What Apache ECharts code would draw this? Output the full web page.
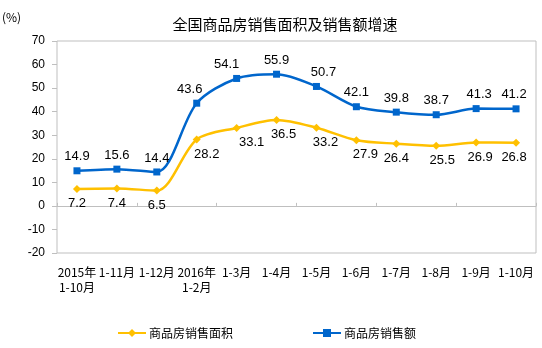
<!DOCTYPE html>
<html><head><meta charset="utf-8">
<script src="https://cdn.jsdelivr.net/npm/echarts@6/dist/echarts.min.js"></script>
<style>html,body{margin:0;padding:0;background:#fff}#c{width:542px;height:348px}</style>
</head><body><div id="c"></div>
<script>
var categories = ['2015年\n1-10月','1-11月','1-12月','2016年\n1-2月','1-3月','1-4月','1-5月','1-6月','1-7月','1-8月','1-9月','1-10月'];
var areaGrowth = [7.2, 7.4, 6.5, 28.2, 33.1, 36.5, 33.2, 27.9, 26.4, 25.5, 26.9, 26.8];
var salesGrowth = [14.9, 15.6, 14.4, 43.6, 54.1, 55.9, 50.7, 42.1, 39.8, 38.7, 41.3, 41.2];
var seriesNames = ['商品房销售面积', '商品房销售额'];
var yTicks = [-20, -10, 0, 10, 20, 30, 40, 50, 60, 70];

// label nudges (style only)
var blueOffsets = [[0,0],[0,0],[0,0],[-7,0],[-10,0],[0,0],[7,0],[0,0],[0,0],[0,0],[3,0],[-2,0]];
var yellowOffsets = [[0,0],[0,0],[0,0],[10,0],[15,0],[7,0],[9,0],[9,0],[0,0],[6,0],[4,0],[-2,0]];

var labelFont = {fontFamily:'Liberation Sans, Arial, sans-serif', fontSize:13, color:'#000'};
function mk(vals, offs){
  return vals.map(function(v,i){return {value:v, label:{offset:offs[i]}};});
}
var chart = echarts.init(document.getElementById('c'));
chart.setOption({
  animation:false,
  backgroundColor:'#fff',
  title:{text:'全国商品房销售面积及销售额增速', left:280, textAlign:'center', top:12,
    textStyle:{fontFamily:'Noto Sans CJK SC', fontSize:15, fontWeight:'normal', color:'#000'}},
  graphic:[{type:'text', left:2, top:11, style:{text:'(%)', font:'12px "Noto Sans CJK SC"', fill:'#000'}}],
  legend:{left:112, top:322, itemWidth:28, itemHeight:10, itemGap:79,
    textStyle:{fontFamily:'Noto Sans CJK SC', fontSize:12, color:'#000', padding:[0,0,0,-2]},
    data:seriesNames},
  grid:{left:57, right:6, top:41, bottom:95, show:true, borderColor:'#bfbfbf', borderWidth:1},
  xAxis:[{type:'category', data:categories, boundaryGap:true,
      axisLine:{onZero:true, lineStyle:{color:'#bfbfbf', width:1}},
      axisTick:{show:true, inside:true, length:3, lineStyle:{color:'#bfbfbf'}},
      axisLabel:{show:false}},
    {type:'category', data:categories, position:'bottom', boundaryGap:true,
      axisLine:{show:false, onZero:false}, axisTick:{show:false},
      axisLabel:{margin:12, interval:0, fontFamily:'Noto Sans CJK SC', fontSize:12, lineHeight:15, color:'#000'}}],
  yAxis:{type:'value', min:yTicks[0], max:yTicks[yTicks.length-1], interval:10,
    axisLine:{show:false}, axisTick:{show:true, length:5, lineStyle:{color:'#bfbfbf'}},
    splitLine:{show:false},
    axisLabel:{margin:12, fontFamily:'Liberation Sans, Arial', fontSize:12, color:'#000'}},
  series:[
    {name:seriesNames[0], type:'line', xAxisIndex:0, smooth:0.3, data:mk(areaGrowth, yellowOffsets),
      symbol:'diamond', symbolSize:8, itemStyle:{color:'#FFC000'}, lineStyle:{width:2.5, color:'#FFC000'},
      label:Object.assign({show:true, position:'bottom', distance:4}, labelFont)},
    {name:seriesNames[1], type:'line', xAxisIndex:0, smooth:0.3, data:mk(salesGrowth, blueOffsets),
      symbol:'rect', symbolSize:7, itemStyle:{color:'#0066CC'}, lineStyle:{width:2.5, color:'#0066CC'},
      label:Object.assign({show:true, position:'top', distance:4}, labelFont)}
  ]
});
</script></body></html>
